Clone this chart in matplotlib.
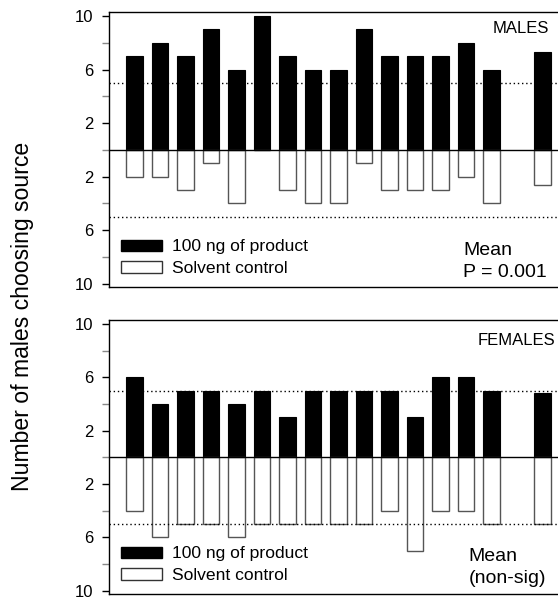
import matplotlib
matplotlib.use("Agg")
import matplotlib.pyplot as plt
from matplotlib.patches import Patch
import numpy as np

plt.rcParams['font.family'] = ['Liberation Sans', 'DejaVu Sans']

trials = list(range(1, 16))
mean_pos = 17
males_product = [7, 8, 7, 9, 6, 10, 7, 6, 6, 9, 7, 7, 7, 8, 6]
males_control = [2, 2, 3, 1, 4, 0, 3, 4, 4, 1, 3, 3, 3, 2, 4]
males_mean_product = 7.33
males_mean_control = 2.6
females_product = [6, 4, 5, 5, 4, 5, 3, 5, 5, 5, 5, 3, 6, 6, 5]
females_control = [4, 6, 5, 5, 6, 5, 5, 5, 5, 5, 4, 7, 4, 4, 5]
females_mean_product = 4.8
females_mean_control = 5.0
major_ticks = [-10, -6, -2, 2, 6, 10]
minor_ticks = [-8, -4, 0, 4, 8]
threshold = 5

W, H = 558, 599
fig = plt.figure(figsize=(W / 100, H / 100), dpi=100)

def make_axes(top_px, bottom_px):
    left = 109 / W
    width = 18 * 25.5 / W
    return fig.add_axes([left, 1 - bottom_px / H, width, (bottom_px - top_px) / H])

ax1 = make_axes(12, 287)
ax2 = make_axes(320, 594)

def draw(ax, prod, ctrl, mprod, mctrl, label, label_x, label_y, mean_lines, mean_x, mean_y):
    xs = trials + [mean_pos]
    p = prod + [mprod]
    c = ctrl + [mctrl]
    ax.bar(xs, p, width=0.63, color='black', edgecolor='black', linewidth=0.8)
    ax.bar(xs, [-v for v in c], width=0.63, color='white', edgecolor='#555555', linewidth=1.0)
    ax.axhline(0, color='black', lw=1.0)
    ax.axhline(threshold, color='black', lw=1.0, ls=(0, (1, 2)))
    ax.axhline(-threshold, color='black', lw=1.0, ls=(0, (1, 2)))
    ax.set_xlim(0, 18)
    ax.set_ylim(-10.25, 10.3)
    ax.set_yticks(major_ticks)
    ax.set_yticklabels([str(abs(t)) for t in major_ticks])
    ax.set_yticks(minor_ticks, minor=True)
    ax.tick_params(axis='y', which='major', length=5, width=1, pad=6.5, labelsize=12)
    ax.tick_params(axis='y', which='minor', length=5, width=1, color='#888888')
    ax.set_xticks([])
    for s in ax.spines.values():
        s.set_linewidth(1.0)
    ax.spines['right'].set_visible(False)
    ax.text(label_x, label_y, label, ha='left', va='baseline', fontsize=12)
    handles = [Patch(facecolor='black', edgecolor='black', label='100 ng of product'),
               Patch(facecolor='white', edgecolor='#333333', label='Solvent control')]
    ax.legend(handles=handles, loc='lower left', bbox_to_anchor=(0.0, -0.005), frameon=False,
              fontsize=12.6, handlelength=2.3, handleheight=0.6, handletextpad=0.6,
              labelspacing=0.38, borderaxespad=0.3)
    ax.text(mean_x, mean_y[0], mean_lines[0], ha='left', va='baseline', fontsize=14)
    ax.text(mean_x, mean_y[1], mean_lines[1], ha='left', va='baseline', fontsize=14)

draw(ax1, males_product, males_control, males_mean_product, males_mean_control,
     'MALES', 15.05, 8.7, ['Mean', 'P = 0.001'], 13.9, [-7.85, -9.5])
draw(ax2, females_product, females_control, females_mean_product, females_mean_control,
     'FEMALES', 14.45, 8.4, ['Mean', '(non-sig)'], 14.1, [-7.75, -9.4])

fig.text(23 / W, 1 - 316 / H, 'Number of males choosing source', rotation=90,
         ha='center', va='center', fontsize=16.6)

fig.savefig('out.png', dpi=100)
